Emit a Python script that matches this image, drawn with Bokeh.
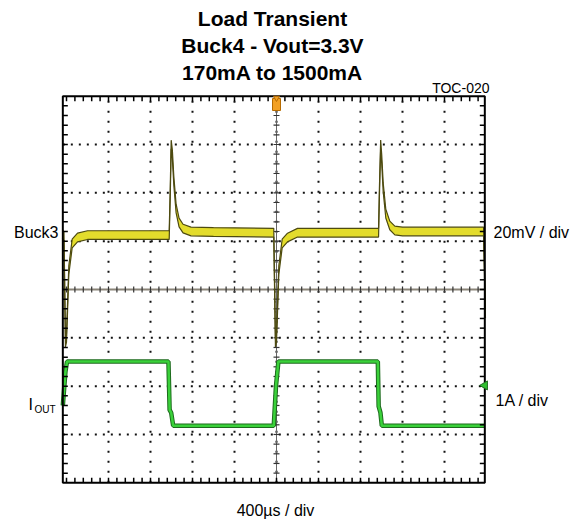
import numpy as np
from bokeh.plotting import figure
from bokeh.models import Range1d, Label
from bokeh.embed import file_html
from bokeh.resources import INLINE

# ---------------- data (read from the scope capture) ----------------
us_per_div = 400
mv_per_div = 20
a_per_div = 1
n_xdiv, n_ydiv = 10, 8
trigger_t = 2000                      # µs, trigger position (centre of screen)
v_zero_div = 5                        # Buck3 reference level (division)
i_zero_div = 1                        # IOUT zero level (division)
marker_iout_a = 1.015                 # IOUT channel marker on right edge
screen_t = (-35, 3984)                # visible time window of the capture (µs)

# Buck3 output voltage deviation (mV) vs time (µs)
buck3_t = [-40, -24, -10, 0, 22, 54, 105, 200, 978, 988, 997, 1008, 1022, 1044, 1072,
           1110, 1186, 1400, 1974, 1990, 2000, 2022, 2054, 2105, 2200, 2972, 2980,
           2992, 3002, 3016, 3041, 3079, 3127, 3200, 3972, 3990]
buck3_mv = [3.0, 2.0, -42.0, -40.0, -12.0, -1.0, 1.5, 2.5, 2.5, 20.0, 40.0, 36.0, 25.0,
            13.5, 7.7, 5.2, 4.0, 3.8, 3.5, -42.0, -40.0, -12.0, -1.0, 1.5, 3.5, 3.5,
            20.0, 40.0, 34.0, 22.3, 11.4, 6.5, 4.4, 4.0, 4.0, -30.0]
buck3_noise_mv = 1.8                  # half peak-to-peak noise band

# Load current (A) vs time (µs)
iout_t = [-35, -10, 5, 971, 982, 997, 1016, 1974, 1995, 2018, 2965, 2973, 2990, 3003, 3984]
iout_a = [0.6, 1.3, 1.51, 1.51, 0.51, 0.45, 0.18, 0.18, 1.0, 1.51, 1.51, 0.58, 0.45, 0.18, 0.18]

title_lines = ["Load Transient", "Buck4 - Vout=3.3V", "170mA to 1500mA"]
fig_code = "TOC-020"
ch1_name, ch1_scale = "Buck3", "20mV / div"
ch2_name, ch2_sub, ch2_scale = "I", "OUT", "1A / div"
time_scale = "400µs / div"

# ---------------- page geometry ----------------
W, H = 578, 524
px_per_us = 0.105          # horizontal scale of the screen
px_per_div = 48.33         # vertical scale of the screen
x_t0 = 66.0                # page x of t = 0
y_div0 = 482.3             # page y of division 0 (bottom edge)


def tx(px):   # page x -> time
    return (px - x_t0) / px_per_us


def dy(py):   # page y -> division
    return (y_div0 - py) / px_per_div


p = figure(width=W, height=H, x_range=Range1d(tx(0), tx(W)), y_range=Range1d(dy(H), dy(0)),
           output_backend="svg", toolbar_location=None,
           x_axis_location=None, y_axis_location=None,
           min_border=0, min_border_left=0, min_border_right=0,
           min_border_top=0, min_border_bottom=0)
p.grid.visible = False
p.outline_line_color = None
p.background_fill_color = "white"
p.border_fill_color = "white"
p.extra_y_ranges = {
    "v": Range1d((dy(H) - v_zero_div) * mv_per_div, (dy(0) - v_zero_div) * mv_per_div),
    "i": Range1d((dy(H) - i_zero_div) * a_per_div, (dy(0) - i_zero_div) * a_per_div),
}

t_left, t_right = screen_t

# ---------------- graticule ----------------
grid_x = [k * us_per_div for k in range(1, n_xdiv)]
grid_y = [k for k in range(1, n_ydiv) if k != n_ydiv // 2]
p.segment(x0=grid_x, y0=[0] * len(grid_x), x1=grid_x, y1=[n_ydiv] * len(grid_x),
          line_color="#111111", line_width=2, line_dash="2 8")
p.segment(x0=[t_left] * len(grid_y), y0=grid_y, x1=[t_right] * len(grid_y), y1=grid_y,
          line_color="#111111", line_width=2, line_dash="2 6")

minor_t = np.arange(0, t_right, us_per_div / 5)
minor_d = np.arange(0.2, n_ydiv, 0.2)
tick_t = 5 / px_per_us
tick_d = 5 / px_per_div
# centre cross
p.segment(x0=[t_left], y0=[n_ydiv / 2], x1=[t_right], y1=[n_ydiv / 2],
          line_color="#8a8478", line_width=2)
p.segment(x0=minor_t, y0=n_ydiv / 2 - 3 / px_per_div, x1=minor_t, y1=n_ydiv / 2 + 3 / px_per_div,
          line_color="#333333", line_width=1.2)
p.segment(x0=[trigger_t], y0=[0], x1=[trigger_t], y1=[n_ydiv], line_color="#666666", line_width=1)
p.segment(x0=trigger_t - 3 / px_per_us, y0=minor_d, x1=trigger_t + 3 / px_per_us, y1=minor_d,
          line_color="#333333", line_width=1.2)

# ---------------- traces ----------------
bt = np.array(buck3_t, dtype=float)
bv = np.array(buck3_mv, dtype=float)
p.varea(x=bt, y1=bv - buck3_noise_mv, y2=bv + buck3_noise_mv, y_range_name="v",
        fill_color="#e3dc2c")
p.line(bt, bv - buck3_noise_mv, y_range_name="v", line_color="#4d4a10", line_width=1.2)
p.line(bt, bv + buck3_noise_mv, y_range_name="v", line_color="#4d4a10", line_width=1.2)

p.line(iout_t, iout_a, y_range_name="i", line_color="#1d6b1d", line_width=4.5)
p.line(iout_t, iout_a, y_range_name="i", line_color="#3ad13a", line_width=2.5)

# ---------------- border with inward minor ticks ----------------
edge_t = minor_t[(minor_t > t_left) & (minor_t < t_right)]
p.segment(x0=edge_t, y0=0, x1=edge_t, y1=tick_d, line_color="black", line_width=1.5)
p.segment(x0=edge_t, y0=n_ydiv, x1=edge_t, y1=n_ydiv - tick_d, line_color="black", line_width=1.5)
p.segment(x0=t_left, y0=minor_d, x1=t_left + tick_t, y1=minor_d, line_color="black", line_width=1.5)
p.segment(x0=t_right, y0=minor_d, x1=t_right - tick_t, y1=minor_d, line_color="black", line_width=1.5)
p.quad(left=[t_left], right=[t_right], bottom=[0], top=[n_ydiv],
       fill_color=None, line_color="black", line_width=2)

# channel / trigger markers
p.rect(x=[trigger_t], y=[dy(104)], width=8, height=12, width_units="screen",
       height_units="screen", fill_color="#f2a024", line_color="#b56a00", line_width=1)
p.scatter(x=[trigger_t], y=[dy(97.5)], marker="triangle", size=6, angle=np.pi,
          fill_color="#f2a024", line_color="#b56a00")
p.scatter(x=[t_right], y=[marker_iout_a], y_range_name="i",
          marker="triangle", size=9, angle=np.pi / 2,
          fill_color="#2fbf2f", line_color="#1d6b1d")

# ---------------- texts ----------------
for txt, py in zip(title_lines, [17.5, 44.5, 71.5]):
    p.add_layout(Label(x=tx(272), y=dy(py), text=txt, text_font="Liberation Sans",
                       text_font_style="bold", text_font_size="21px", text_align="center",
                       text_baseline="middle", text_color="black"))
lf = "Liberation Sans"


def lab(txt, px, py, size, align):
    p.add_layout(Label(x=tx(px), y=dy(py), text=txt, text_font=lf, text_font_size=size,
                       text_align=align, text_baseline="middle", text_color="black"))


lab(fig_code, 489, 87, "14px", "right")
lab(ch1_name, 58, 232, "16px", "right")
lab(ch1_scale, 493, 232, "16px", "left")
lab(ch2_name, 28, 404, "16px", "left")
lab(ch2_sub, 34, 409, "10px", "left")
lab(ch2_scale, 495, 400, "16px", "left")
lab(time_scale, 275, 510, "16px", "center")

open("out.html", "w").write(file_html(p, INLINE))
